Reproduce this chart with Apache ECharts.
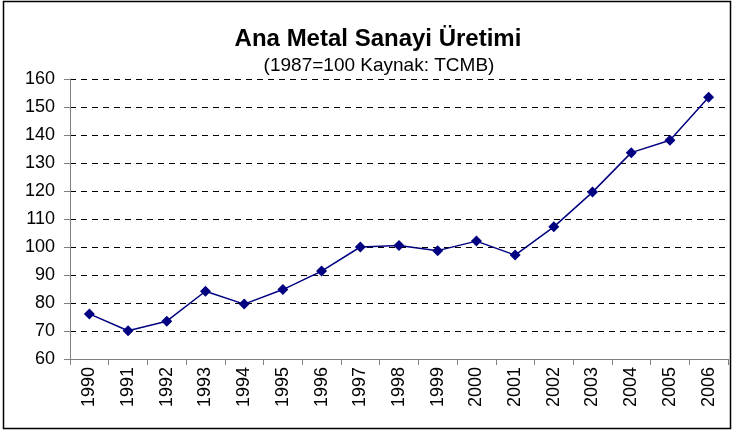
<!DOCTYPE html>
<html>
<head>
<meta charset="utf-8">
<title>Ana Metal Sanayi Üretimi</title>
<script src="https://cdn.jsdelivr.net/npm/echarts@6/dist/echarts.min.js"></script>
<style>
  html, body { margin: 0; padding: 0; background: #fff; }
  #main { width: 732px; height: 436px; }
</style>
</head>
<body>
<div id="main"></div>
<script type="text/javascript">
    // yıllar ve endeks değerleri (1987=100)
    var years = ['1990', '1991', '1992', '1993', '1994', '1995', '1996', '1997', '1998',
                 '1999', '2000', '2001', '2002', '2003', '2004', '2005', '2006'];
    var production = [76.1, 70.1, 73.5, 84.2, 79.6, 84.8, 91.4, 100.0, 100.5,
                      98.7, 102.1, 97.1, 107.2, 119.6, 133.7, 138.1, 153.5];

    var titleText = 'Ana Metal Sanayi Üretimi';
    var subtitleText = '(1987=100 Kaynak: TCMB)';

    var font = 'Arial, "Liberation Sans", sans-serif';
    var myChart = echarts.init(document.getElementById('main'), null, { renderer: 'canvas' });

    myChart.setOption({
        animation: false,
        backgroundColor: '#fff',
        textStyle: { fontFamily: font, color: '#000' },
        graphic: [{
            type: 'rect',
            shape: { x: 3.5, y: 1.5, width: 727, height: 427 },
            style: { fill: 'none', stroke: '#000', lineWidth: 1.5 },
            silent: true
        }],
        title: [{
            text: titleText,
            left: 373,
            top: 22,
            textAlign: 'center',
            textStyle: { fontFamily: font, fontSize: 24, fontWeight: 'bold', color: '#000' }
        }, {
            text: subtitleText,
            left: 374,
            top: 51,
            textAlign: 'center',
            textStyle: { fontFamily: font, fontSize: 19, fontWeight: 'normal', color: '#000' }
        }],
        grid: { left: 70, right: 4, top: 79, bottom: 77, containLabel: false },
        xAxis: {
            type: 'category',
            data: years,
            boundaryGap: true,
            axisLine: { lineStyle: { color: '#808080', width: 1 } },
            axisTick: { show: true, length: 6, inside: false, lineStyle: { color: '#808080' } },
            axisLabel: { rotate: 90, margin: 8, fontSize: 18, color: '#000', fontFamily: font },
            splitLine: { show: false }
        },
        yAxis: {
            type: 'value',
            min: 60,
            max: 160,
            interval: 10,
            axisLine: { show: true, lineStyle: { color: '#808080', width: 1 } },
            axisTick: { show: true, length: 6, lineStyle: { color: '#808080' } },
            axisLabel: { margin: 15, fontSize: 18, color: '#000', fontFamily: font },
            splitLine: { show: true, lineStyle: { color: '#000', type: [6, 5], width: 1 } }
        },
        series: [{
            type: 'line',
            data: production,
            symbol: 'diamond',
            symbolSize: 11,
            lineStyle: { color: '#000080', width: 1.5 },
            itemStyle: { color: '#000080' }
        }]
    });
</script>
</body>
</html>
